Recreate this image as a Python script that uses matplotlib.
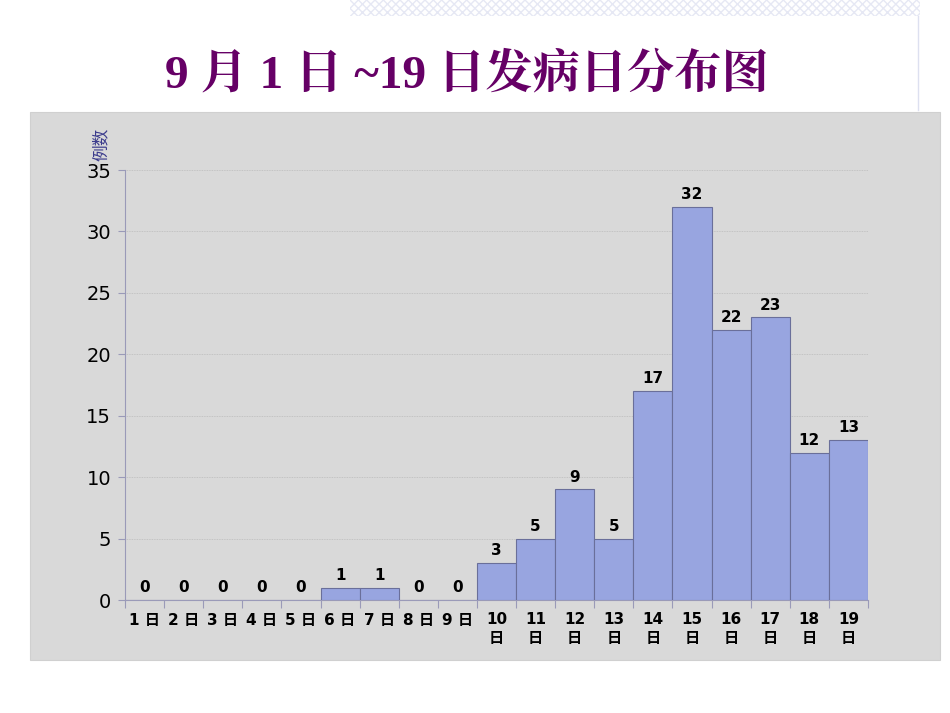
import numpy as np
import matplotlib
matplotlib.use("Agg")
from matplotlib import pyplot as plt
from matplotlib.patches import Rectangle

days = [str(d) for d in range(1, 20)]
cases = [0, 0, 0, 0, 0, 1, 1, 0, 0, 3, 5, 9, 5, 17, 32, 22, 23, 12, 13]
tick_labels = [d + " 日" if len(d) == 1 else d + "\n日" for d in days]

fam = ['DejaVu Sans', 'Noto Sans CJK SC']

fig = plt.figure(figsize=(9.5, 7.13), dpi=100)
fig.patch.set_facecolor('white')

# faint patterned strip at the top right
fig.patches.append(Rectangle((350/950, 1-16/713), 570/950, 16/713, transform=fig.transFigure,
                             facecolor='white', edgecolor='#e6e8f4', hatch='xxxx', lw=0, zorder=-10))
fig.add_artist(plt.Line2D([918/950, 918/950], [1-110/713, 1], transform=fig.transFigure,
                          color='#dde0f0', lw=1, zorder=-10))

# grey panel
fig.patches.append(Rectangle((30/950, 1-660/713), 910/950, 548/713, transform=fig.transFigure,
                             facecolor='#d9d9d9', edgecolor='#d0d0d0', lw=0.8, zorder=-10))

fig.text(467/950, 1-75/713, "9 月 1 日 ~19 日发病日分布图", ha='center', va='center',
         fontsize=34, fontweight='bold', color='#660066',
         family=['Liberation Serif', 'Noto Serif CJK SC', 'Noto Sans CJK SC'])

ax = fig.add_axes([125/950, 1-600/713, 743/950, 430/713])
ax.set_facecolor('none')

x = np.arange(len(cases))
ax.bar(x, cases, width=1, align='edge', color='#98a5e0', edgecolor='#6a6f9a', linewidth=0.8, zorder=3)
for xi, v in zip(x, cases):
    ax.text(xi + 0.5, v + 0.4, str(v), ha='center', va='bottom', fontsize=11,
            fontweight='bold', family=fam, zorder=4)

ax.set_xlim(0, 19)
ax.set_ylim(0, 35)
ax.set_yticks(range(0, 36, 5))
ax.tick_params(axis='y', labelsize=14, length=5, color='#9a9ab8', pad=5)
ax.yaxis.grid(True, color='#bcbcbc', linestyle=(0, (1, 1)), linewidth=0.6, zorder=0)

ax.set_xticks(range(0, 20))
ax.set_xticklabels([])
ax.tick_params(axis='x', which='major', length=6, color='#9a9ab8', direction='out')
ax.set_xticks(x + 0.5, minor=True)
ax.set_xticklabels(tick_labels, minor=True, fontsize=11, fontweight='bold', family=fam,
                   linespacing=1.25)
ax.tick_params(axis='x', which='minor', length=0, pad=9)

for s in ['top', 'right']:
    ax.spines[s].set_visible(False)
for s in ['left', 'bottom']:
    ax.spines[s].set_color('#9a9ab8')

fig.text(101/950, 1-144/713, "例数", rotation=90, ha='center', va='center',
         fontsize=12, color='#3a3a8c', family=['Noto Sans CJK SC'])

fig.savefig("out.png", dpi=100)
